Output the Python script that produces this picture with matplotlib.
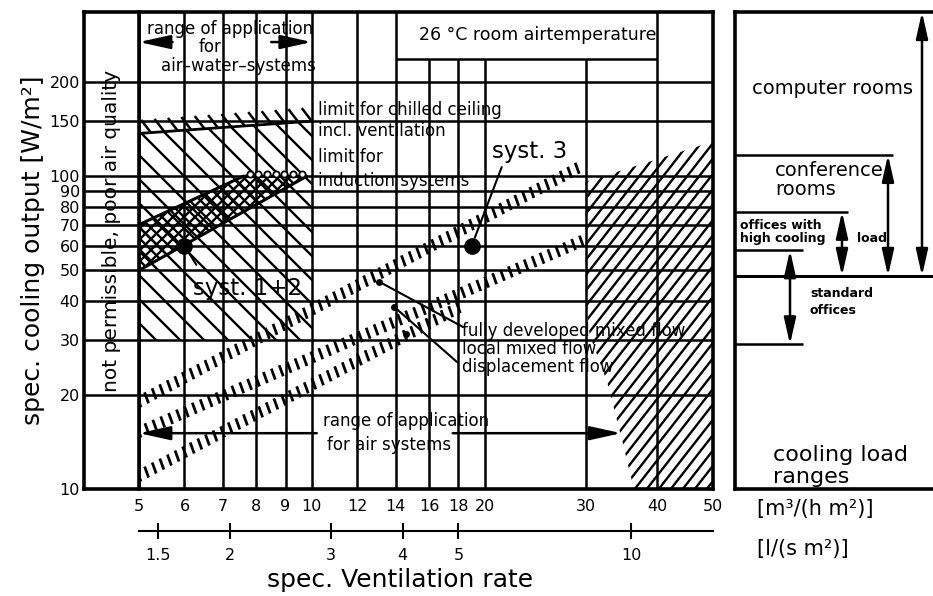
import numpy as np
import matplotlib
matplotlib.use("Agg")
import matplotlib.pyplot as plt
from matplotlib.patches import Polygon
from matplotlib.collections import LineCollection
from matplotlib.ticker import FixedLocator, FixedFormatter, NullLocator, NullFormatter

plt.rcParams['font.family'] = ['DejaVu Sans']

# ---------------- data ----------------
x_ticks = [5, 6, 7, 8, 9, 10, 12, 14, 16, 18, 20, 30, 40, 50]      # m3/(h m2)
y_ticks = [20, 30, 40, 50, 60, 70, 80, 90, 100, 150, 200]          # W/m2
y_labels = [10, 20, 30, 40, 50, 60, 70, 80, 90, 100, 150, 200]
ls_ticks = [1.5, 2, 3, 4, 5, 10]                                   # l/(s m2)
M3H_PER_LS = 3.6
x_range = (5, 50)
y_range = (10, 335)

x_short = [16, 18, 20, 30]          # grid lines ending below the temperature box
box_x = [14, 40]
box_y_bottom = 237

air_water_range = [5, 10]
air_range = [5, 34.6]

chill_x = [5, 10, 10, 5]
chill_y = [137, 150, 30, 30]
chill_limit_x = [5, 10]
chill_limit_y = [137, 150]

induct_x = [5, 7.6, 9.8, 5]
induct_y = [70, 100, 100, 50]

high_vent_x = [30, 50, 50, 36.4, 34.6, 32.7, 30.5, 30]
high_vent_y = [96, 129, 10, 10, 14.7, 22, 31, 40]

flow_names = ["fully developed mixed flow", "local mixed flow", "displacement flow"]
flow_x = [[5, 29], [5, 29.5], [5, 18]]
flow_y = [[19, 106], [15.2, 62], [11, 38]]
flow_marker_x = [13.1, 13.9, 14.6]
flow_marker_y = [46, 38.3, 31.2]

syst_names = ["syst. 1+2", "syst. 3"]
syst_x = [6, 19]
syst_y = [60, 60]

load_names = ["standard\noffices", "offices with\nhigh cooling", "conference\nrooms", "computer rooms"]
load_low = [29, 48, 48, 48]
load_high = [58, 77, 117, 335]

# ---------------- layout helpers ----------------
W, H = 933, 596
fig = plt.figure(figsize=(W / 100, H / 100), dpi=100)


def rect(l, t, r, b):
    return [l / W, 1 - b / H, (r - l) / W, (b - t) / H]


def ftext(px, py, s, **kw):
    kw.setdefault('color', 'k')
    return fig.text(px / W, 1 - py / H, s, **kw)


LW_GRID = 1.8
LW_FRAME = 2.6


def log_y(a):
    a.set_yscale('log')
    a.set_ylim(*y_range)
    a.yaxis.set_minor_locator(NullLocator())
    a.yaxis.set_minor_formatter(NullFormatter())


def to_axes(a, pts):
    return a.transAxes.inverted().transform(pts)


def hatch_fill(a, xs, ys, hspacing, angle, lw=1.7):
    patch = Polygon(np.column_stack([xs, ys]), closed=True, fill=False,
                    edgecolor='none', transform=a.transData)
    a.add_patch(patch)
    bb = a.bbox
    c0 = np.array([(bb.x0 + bb.x1) / 2, (bb.y0 + bb.y1) / 2])
    L = np.hypot(bb.width, bb.height)
    th = np.deg2rad(angle)
    d = np.array([np.cos(th), np.sin(th)])
    n = np.array([-np.sin(th), np.cos(th)])
    step = hspacing * abs(np.sin(th))
    segs = []
    for s in np.arange(-L, L, step):
        c = c0 + s * n
        segs.append(to_axes(a, np.array([c - L * d, c + L * d])))
    lc = LineCollection(segs, colors='k', linewidths=lw, transform=a.transAxes)
    a.add_collection(lc, autolim=False)
    lc.set_clip_path(patch)


def tick_row(a, xs, ys, spacing, vec, anchor=0.5, lw=1.8):
    p0 = a.transData.transform((xs[0], ys[0]))
    p1 = a.transData.transform((xs[1], ys[1]))
    n = int(np.hypot(*(p1 - p0)) // spacing) + 1
    v = np.array(vec, float)
    segs = []
    for t in np.linspace(0, 1, n):
        c = p0 + t * (p1 - p0)
        segs.append(to_axes(a, np.array([c - anchor * v, c + (1 - anchor) * v])))
    a.add_collection(LineCollection(segs, colors='k', linewidths=lw,
                                    transform=a.transAxes), autolim=False)


# ---------------- main chart ----------------
ax = fig.add_axes(rect(139, 12, 713, 489))
ax.set_xscale('log')
ax.set_xlim(*x_range)
log_y(ax)
ax.xaxis.set_major_locator(FixedLocator(x_ticks))
ax.xaxis.set_major_formatter(FixedFormatter([str(v) for v in x_ticks]))
ax.xaxis.set_minor_locator(NullLocator())
ax.xaxis.set_minor_formatter(NullFormatter())
ax.yaxis.set_major_locator(NullLocator())
ax.tick_params(axis='x', length=0, pad=7, labelsize=11.5)
for s in ax.spines.values():
    s.set_linewidth(LW_FRAME)

for xv in x_ticks[1:-1]:
    top = box_y_bottom if xv in x_short else y_range[1]
    ax.vlines(xv, y_range[0], top, color='k', lw=LW_GRID)
ax.hlines(y_ticks, x_range[0], x_range[1], color='k', lw=LW_GRID)
ax.hlines(box_y_bottom, box_x[0], box_x[1], color='k', lw=LW_GRID)

# hatched regions
hatch_fill(ax, chill_x, chill_y, 24, -45)
hatch_fill(ax, induct_x, induct_y, 11, -45)
hatch_fill(ax, induct_x, induct_y, 11, 45)
hatch_fill(ax, high_vent_x, high_vent_y, 12, 52)
ax.plot(chill_limit_x, chill_limit_y, color='k', lw=2)
ax.plot(induct_x + induct_x[:1], induct_y + induct_y[:1], color='k', lw=2.2)
tick_row(ax, [5.25, 10], [137.5, 150], 13, (10, -13), anchor=1.0)
ax.plot(np.geomspace(7.8, 9.6, 7), [102] * 7, 'o', ms=4.5, mfc='white',
        mec='k', mew=1.3)

# flow characteristic lines (hatched)
for fx_, fy_ in zip(flow_x, flow_y):
    tick_row(ax, fx_, fy_, 8.5, (4, -11), lw=2.0)
ax.plot(flow_marker_x, flow_marker_y, 'o', ms=4, color='k')

# system points
ax.plot(syst_x, syst_y, 'o', ms=11, color='k', zorder=5)

# range arrows
def range_arrow(a, x_tip, x_tail, yfrac):
    a.annotate("", xy=(x_tip, yfrac), xytext=(x_tail, yfrac),
               xycoords=('data', 'axes fraction'), textcoords=('data', 'axes fraction'),
               arrowprops=dict(arrowstyle='-|>,head_length=1.9,head_width=0.42',
                               mutation_scale=10, lw=1.8, color='k',
                               shrinkA=0, shrinkB=0))

range_arrow(ax, air_water_range[0], 5.72, 0.937)
range_arrow(ax, air_water_range[1], 8.5, 0.937)
range_arrow(ax, air_range[0], 10.2, 0.117)
range_arrow(ax, air_range[1], 17.6, 0.117)

# annotations with leader lines
ax.annotate(syst_names[1], xy=(syst_x[1], syst_y[1]), xycoords='data',
            xytext=(492, H - 163), textcoords='figure pixels',
            fontsize=16.5, ha='left', va='bottom',
            arrowprops=dict(arrowstyle='-', lw=1.5, color='k', shrinkA=1, shrinkB=6,
                            relpos=(0.15, 0.0)))
ax.annotate(syst_names[0], xy=(syst_x[0], syst_y[0]), xycoords='data',
            xytext=(193, H - 300), textcoords='figure pixels',
            fontsize=16.5, ha='left', va='bottom',
            arrowprops=dict(arrowstyle='-', lw=1.5, color='k', shrinkA=8, shrinkB=6,
                            relpos=(0.1, 1.0)))
ax.annotate("", xy=(flow_marker_x[0], flow_marker_y[0]), xycoords='data',
            xytext=(463, H - 327), textcoords='figure pixels',
            arrowprops=dict(arrowstyle='-', lw=1.5, color='k', shrinkA=0, shrinkB=0))
ax.annotate("", xy=(flow_marker_x[1], flow_marker_y[1]), xycoords='data',
            xytext=(457, H - 362), textcoords='figure pixels',
            arrowprops=dict(arrowstyle='-', lw=1.5, color='k', shrinkA=0, shrinkB=0))

# texts inside chart
ftext(230, 29, "range of application", ha='center', va='center', fontsize=12)
ftext(210, 47, "for", ha='center', va='center', fontsize=12)
ftext(238, 66, "air\u2013water\u2013systems", ha='center', va='center', fontsize=12)
ftext(538, 35, "26 \u00b0C room airtemperature", ha='center', va='center', fontsize=12.5)
ftext(318, 110, "limit for chilled ceiling", ha='left', va='center', fontsize=12)
ftext(318, 131, "incl. ventilation", ha='left', va='center', fontsize=12)
ftext(318, 157, "limit for", ha='left', va='center', fontsize=12)
ftext(318, 181, "induction systems", ha='left', va='center', fontsize=12)
for i, name in enumerate(flow_names):
    ftext(462, 331 + 18 * i, name, ha='left', va='center', fontsize=12)
ftext(323, 421, "range of application", ha='left', va='center', fontsize=12)
ftext(327, 445, "for air systems", ha='left', va='center', fontsize=12)

# secondary (l/(s m2)) axis
sec = ax.secondary_xaxis(-(531 - 489) / 477,
                         functions=(lambda v: v / M3H_PER_LS, lambda v: v * M3H_PER_LS))
sec.xaxis.set_major_locator(FixedLocator(ls_ticks))
sec.xaxis.set_major_formatter(FixedFormatter([f"{v:g}" for v in ls_ticks]))
sec.xaxis.set_minor_locator(NullLocator())
sec.tick_params(axis='x', direction='inout', length=12, width=1.5, pad=6, labelsize=11.5)
sec.spines['bottom'].set_linewidth(1.5)

# ---------------- left strip ----------------
st = fig.add_axes(rect(84, 12, 139, 489))
log_y(st)
st.set_xlim(0, 1)
st.yaxis.set_major_locator(FixedLocator(y_labels))
st.yaxis.set_major_formatter(FixedFormatter([str(v) for v in y_labels]))
st.tick_params(axis='y', length=0, pad=3, labelsize=11.5)
st.tick_params(axis='x', bottom=False, labelbottom=False)
st.hlines(y_ticks, 0, 1, color='k', lw=LW_GRID)
for s in st.spines.values():
    s.set_linewidth(LW_FRAME)
ftext(112, 231, "not permissible, poor air quality", rotation=90,
      ha='center', va='center', fontsize=14.5)

# ---------------- right panel: cooling load ranges ----------------
rp = fig.add_axes(rect(735, 12, 933, 489))
log_y(rp)
rp.set_xlim(0, 198)
rp.set_xticks([])
rp.yaxis.set_major_locator(NullLocator())
rp.spines['right'].set_visible(False)
for s in ['left', 'top', 'bottom']:
    rp.spines[s].set_linewidth(LW_FRAME)

arrow_x = [55, 107, 153, 187]
line_end_hi = [68, 113, 158, 198]
line_end_lo = [68, 198, 198, 198]
for i in range(len(load_names)):
    if load_high[i] < y_range[1]:
        rp.hlines(load_high[i], 0, line_end_hi[i], color='k', lw=1.8)
    rp.hlines(load_low[i], 0, line_end_lo[i], color='k', lw=1.8)
    rp.annotate("", xy=(arrow_x[i], load_high[i]), xytext=(arrow_x[i], load_low[i]),
                arrowprops=dict(arrowstyle='<|-|>,head_length=1.6,head_width=0.36',
                                mutation_scale=10, lw=1.8, color='k',
                                shrinkA=0, shrinkB=0))

ftext(833, 88, "computer rooms", ha='center', va='center', fontsize=14)
ftext(775, 180, "conference\nrooms", ha='left', va='center', fontsize=14, linespacing=1.05)
ftext(740, 232, "offices with\nhigh cooling", ha='left', va='center', fontsize=9,
      fontweight='bold', linespacing=0.95)
ftext(857, 238, "load", ha='left', va='center', fontsize=9, fontweight='bold')
ftext(810, 302, "standard\noffices", ha='left', va='center', fontsize=9,
      fontweight='bold', linespacing=1.4)
ftext(773, 466, "cooling load\nranges", ha='left', va='center', fontsize=16, linespacing=1.1)

# ---------------- axis titles and units ----------------
ftext(757, 509, "[m\u00b3/(h m\u00b2)]", ha='left', va='center', fontsize=15)
ftext(757, 549, "[l/(s m\u00b2)]", ha='left', va='center', fontsize=15)
ftext(400, 580, "spec. Ventilation rate", ha='center', va='center', fontsize=18)
ftext(33, 250, "spec. cooling output [W/m\u00b2]", rotation=90, ha='center', va='center',
      fontsize=18)

fig.savefig("out.png", dpi=100)
